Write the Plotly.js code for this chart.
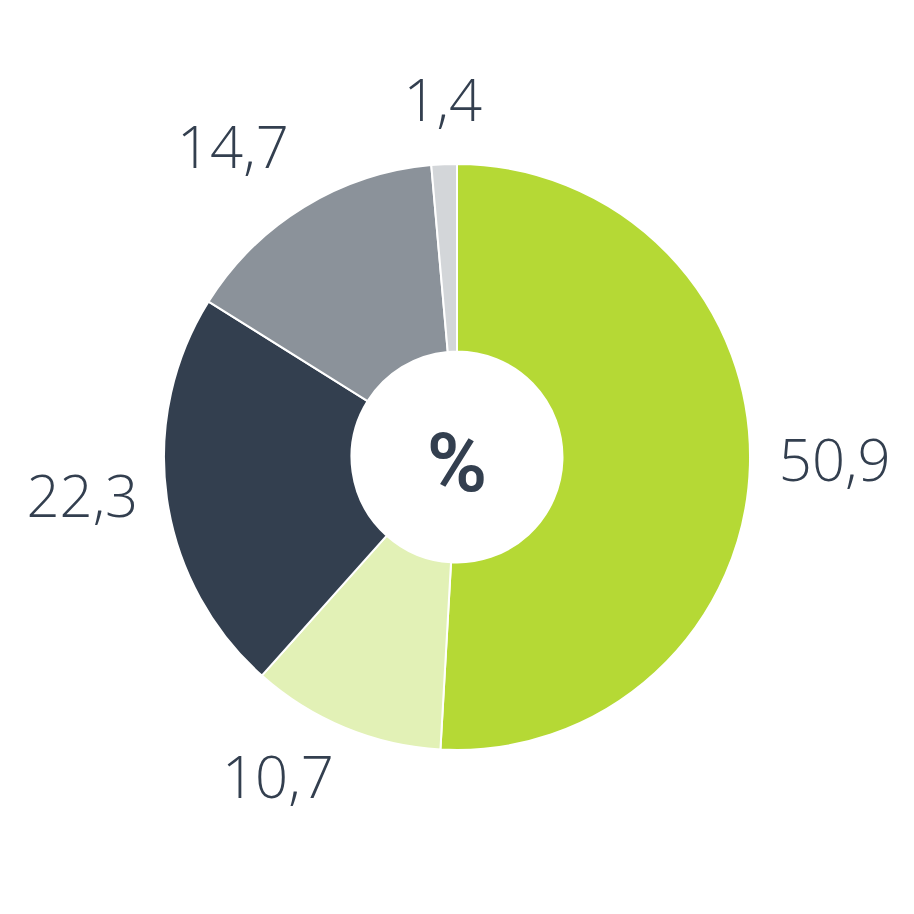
<!DOCTYPE html>
<html>
<head>
<meta charset="utf-8">
<script src="https://cdn.plot.ly/plotly-3.0.1.min.js"></script>
<style>html,body{margin:0;padding:0;background:#fff;}#chart{width:914px;height:914px;}</style>
</head>
<body>
<div id="chart"></div>
<script>
const categories = ["A", "B", "C", "D", "E"];
const values = [50.9, 10.7, 22.3, 14.7, 1.4];
const colors = ["#b5d935", "#e2f1b6", "#333f4f", "#8b929a", "#d3d6d9"];
const centerLabel = "%";
const labelPositions = ["middle right", "bottom left", "middle left", "top left", "top center"];

const total = values.reduce((a, b) => a + b, 0);
let acc = 0;
const midAngles = values.map(v => { const m = (acc + v / 2) / total * 360; acc += v; return m; });
const labelText = values.map(v => v.toFixed(1).replace(".", ","));

const pie = {
  type: "pie",
  labels: categories,
  values: values,
  sort: false,
  direction: "clockwise",
  rotation: 0,
  hole: 0.36,
  marker: {colors: colors, line: {color: "#ffffff", width: 2}},
  textinfo: "none",
  textposition: "none",
  automargin: false,
  showlegend: false,
  hoverinfo: "none",
  domain: {x: [0.1794, 0.8206], y: [0.1794, 0.8206]},
  title: {text: centerLabel, position: "middle center",
          font: {family: "Roboto", size: 82, color: "#333f4f", weight: 600}}
};

const labels = {
  type: "scatterpolar",
  mode: "text",
  r: values.map(() => 322),
  theta: midAngles,
  text: labelText,
  textposition: labelPositions,
  textfont: {family: "Open Sans", size: 58, color: "#333f4f", weight: 300},
  showlegend: false,
  hoverinfo: "none",
  cliponaxis: false
};

Plotly.newPlot("chart", [pie, labels], {
  width: 914, height: 914,
  margin: {l: 0, r: 0, t: 0, b: 0},
  paper_bgcolor: "#ffffff",
  showlegend: false,
  polar: {
    domain: {x: [0, 1], y: [0, 1]},
    bgcolor: "rgba(0,0,0,0)",
    radialaxis: {range: [0, 457], visible: false, showgrid: false, showline: false, showticklabels: false, ticks: ""},
    angularaxis: {rotation: 90, direction: "clockwise", visible: false, showgrid: false, showline: false, showticklabels: false, ticks: ""}
  }
}, {displayModeBar: false, staticPlot: true});
</script>
</body>
</html>
